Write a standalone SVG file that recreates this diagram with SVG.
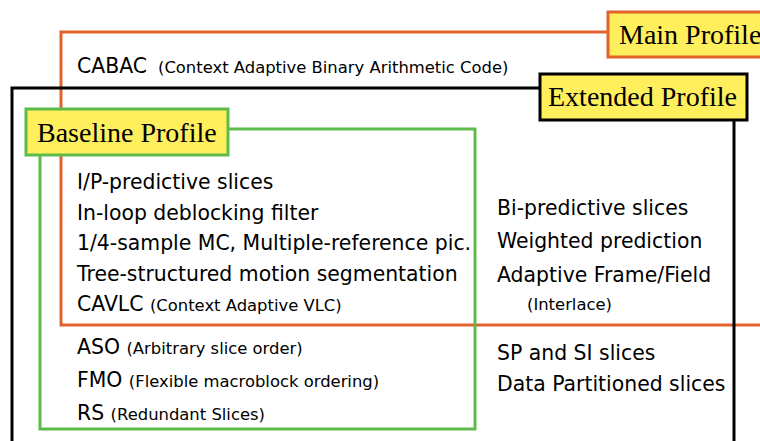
<svg xmlns="http://www.w3.org/2000/svg" width="760" height="441" viewBox="0 0 760 441">
<style>
.lbl{fill:#FFEF5C;stroke-width:3}
.lt{font-family:"Liberation Serif","Times New Roman",serif;font-size:28px;fill:#000}
.t{font-family:"DejaVu Sans",Verdana,sans-serif;font-size:20.4px;fill:#000}
.s{font-size:16.4px}
</style>
<rect width="760" height="441" fill="#fff"/>
<g id="connectors" fill="none" stroke-width="3">
<rect id="main-box" x="61" y="32" width="760" height="293" stroke="#E2622C"/>
<rect id="ext-box" x="12" y="88" width="722" height="400" stroke="#000"/>
<rect id="base-box" x="40" y="129" width="435" height="300" stroke="#5DBB4B"/>
</g>
<g id="main-profile">
<rect class="lbl" x="608" y="12" width="170" height="45" stroke="#E2622C"/>
<text class="lt" x="619" y="44">Main Profile</text>
<text class="t" x="77" y="73">CABAC <tspan class="s" x="158">(Context Adaptive Binary Arithmetic Code)</tspan></text>
</g>
<g id="extended-profile">
<rect class="lbl" x="540" y="74" width="207" height="46" stroke="#000"/>
<text class="lt" x="548" y="106">Extended Profile</text>
<text class="t" x="497" y="215">Bi-predictive slices</text>
<text class="t" x="497" y="248">Weighted prediction</text>
<text class="t" x="497" y="282">Adaptive Frame/Field</text>
<text class="t s" x="527" y="310">(Interlace)</text>
<text class="t" x="497" y="360">SP and SI slices</text>
<text class="t" x="497" y="391">Data Partitioned slices</text>
</g>
<g id="baseline-profile">
<rect class="lbl" x="26" y="109" width="202" height="46" stroke="#5DBB4B"/>
<text class="lt" x="37" y="142">Baseline Profile</text>
<text class="t" x="77" y="189">I/P-predictive slices</text>
<text class="t" x="77" y="220">In-loop deblocking filter</text>
<text class="t" x="77" y="250">1/4-sample MC, Multiple-reference pic.</text>
<text class="t" x="77" y="281">Tree-structured motion segmentation</text>
<text class="t" x="77" y="311">CAVLC <tspan class="s">(Context Adaptive VLC)</tspan></text>
<text class="t" x="77" y="354">ASO <tspan class="s">(Arbitrary slice order)</tspan></text>
<text class="t" x="77" y="387">FMO <tspan class="s">(Flexible macroblock ordering)</tspan></text>
<text class="t" x="77" y="420">RS <tspan class="s">(Redundant Slices)</tspan></text>
</g>
</svg>
